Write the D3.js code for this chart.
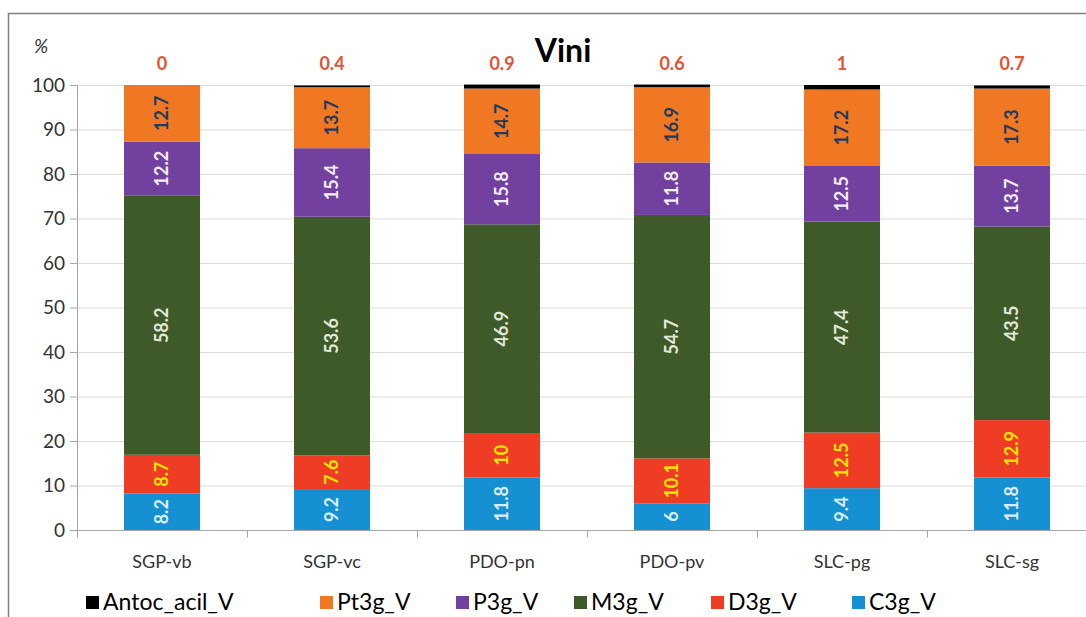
<!DOCTYPE html>
<html>
<head>
<meta charset="utf-8">
<script src="https://cdn.jsdelivr.net/npm/d3@7"></script>
<style>
  html, body { margin: 0; padding: 0; background: #fff; }
  svg { display: block; font-family: Lato, "Open Sans", sans-serif; }
</style>
</head>
<body>
<div id="chart"></div>
<script>
// Stacked composition of anthocyanins per wine (%)
const categories = ['SGP-vb', 'SGP-vc', 'PDO-pn', 'PDO-pv', 'SLC-pg', 'SLC-sg'];
const seriesKeys = ['C3g_V', 'D3g_V', 'M3g_V', 'P3g_V', 'Pt3g_V', 'Antoc_acil_V'];
const legendOrder = ['Antoc_acil_V', 'Pt3g_V', 'P3g_V', 'M3g_V', 'D3g_V', 'C3g_V'];

const c3g   = [8.2, 9.2, 11.8, 6, 9.4, 11.8];
const d3g   = [8.7, 7.6, 10, 10.1, 12.5, 12.9];
const m3g   = [58.2, 53.6, 46.9, 54.7, 47.4, 43.5];
const p3g   = [12.2, 15.4, 15.8, 11.8, 12.5, 13.7];
const pt3g  = [12.7, 13.7, 14.7, 16.9, 17.2, 17.3];
const acil  = [0, 0.4, 0.9, 0.6, 1, 0.7];
const yTicks = [0, 10, 20, 30, 40, 50, 60, 70, 80, 90, 100];

const colors = {
    'C3g_V': '#1590d2',
    'D3g_V': '#ee3d24',
    'M3g_V': '#3f5a29',
    'P3g_V': '#7241a0',
    'Pt3g_V': '#f07823',
    'Antoc_acil_V': '#000000'
};
const labelColors = {
    'C3g_V': '#dbeefa',
    'D3g_V': '#ffe600',
    'M3g_V': '#e2e9d8',
    'P3g_V': '#f2eef8',
    'Pt3g_V': '#1f3a5c'
};

const rows = categories.map((c, i) => ({
    cat: c,
    'C3g_V': c3g[i], 'D3g_V': d3g[i], 'M3g_V': m3g[i],
    'P3g_V': p3g[i], 'Pt3g_V': pt3g[i], 'Antoc_acil_V': acil[i]
}));

const width = 1086, height = 617;
const margin = { left: 77, top: 85, right: -11, bottom: 87 };

const svg = d3.select('#chart').append('svg')
    .attr('width', width).attr('height', height);

// chart frame
svg.append('rect')
    .attr('x', 8.5).attr('y', 13.5)
    .attr('width', 1100).attr('height', 700)
    .attr('fill', 'none').attr('stroke', '#7f7f7f').attr('stroke-width', 1.5);

const x = d3.scaleBand()
    .domain(categories)
    .range([margin.left, width - margin.right])
    .paddingInner(0.553).paddingOuter(0.2765);

const y = d3.scaleLinear()
    .domain([0, 100])
    .range([height - margin.bottom, margin.top]);

// gridlines
svg.append('g')
    .selectAll('line')
    .data(yTicks.filter(d => d > 0))
    .join('line')
    .attr('x1', margin.left).attr('x2', width)
    .attr('y1', d => y(d) + 0.5).attr('y2', d => y(d) + 0.5)
    .attr('stroke', '#dcdcdc');

// y axis
const yAxis = svg.append('g')
    .attr('transform', `translate(${margin.left},0)`)
    .call(d3.axisLeft(y).tickValues(yTicks).tickSize(7).tickPadding(5));
yAxis.select('.domain').attr('stroke', '#a6a6a6');
yAxis.selectAll('.tick line').attr('stroke', '#a6a6a6');
yAxis.selectAll('text')
    .attr('fill', '#333')
    .style('font-size', '19px')
    .style('font-family', 'Lato, "Open Sans", sans-serif');

// x axis baseline and category separators
const x0 = y(0) + 0.5;
svg.append('line')
    .attr('x1', margin.left - 7).attr('x2', width)
    .attr('y1', x0).attr('y2', x0)
    .attr('stroke', '#a6a6a6');
const step = x.step();
svg.append('g').selectAll('line')
    .data(d3.range(categories.length))
    .join('line')
    .attr('x1', i => margin.left + i * step + 0.5)
    .attr('x2', i => margin.left + i * step + 0.5)
    .attr('y1', x0).attr('y2', x0 + 7)
    .attr('stroke', '#a6a6a6');

svg.append('g').selectAll('text')
    .data(categories)
    .join('text')
    .attr('x', d => x(d) + x.bandwidth() / 2)
    .attr('y', 568)
    .attr('text-anchor', 'middle')
    .attr('fill', '#333')
    .style('font-size', '18px')
    .text(d => d);

// stacks
const stacked = d3.stack().keys(seriesKeys)(rows);

const layers = svg.append('g').selectAll('g')
    .data(stacked)
    .join('g')
    .attr('fill', d => colors[d.key]);

layers.selectAll('rect')
    .data(d => d)
    .join('rect')
    .attr('x', d => x(d.data.cat))
    .attr('width', x.bandwidth())
    .attr('y', d => y(d[1]))
    .attr('height', d => y(d[0]) - y(d[1]));

// rotated value labels inside segments
stacked.filter(s => s.key !== 'Antoc_acil_V').forEach(s => {
    svg.append('g').selectAll('text')
        .data(s)
        .join('text')
        .attr('transform', d => {
            const cx = x(d.data.cat) + x.bandwidth() / 2;
            const cy = (y(d[0]) + y(d[1])) / 2;
            return `translate(${cx},${cy}) rotate(-90)`;
        })
        .attr('text-anchor', 'middle')
        .attr('dy', '0.35em')
        .attr('fill', labelColors[s.key])
        .style('font-size', '18px')
        .style('font-weight', 'bold')
        .text(d => d.data[s.key]);
});

// acylated values above bars
svg.append('g').selectAll('text')
    .data(rows)
    .join('text')
    .attr('x', d => x(d.cat) + x.bandwidth() / 2)
    .attr('y', y(100) - 15)
    .attr('text-anchor', 'middle')
    .attr('fill', '#e8502f')
    .style('font-size', '18px')
    .style('font-weight', 'bold')
    .text(d => d['Antoc_acil_V']);

// title and unit
svg.append('text')
    .attr('x', 563).attr('y', 62)
    .attr('text-anchor', 'middle')
    .attr('fill', '#000')
    .style('font-size', '32px')
    .style('font-weight', 'bold')
    .text('Vini');

svg.append('text')
    .attr('x', 34).attr('y', 53)
    .attr('fill', '#333')
    .style('font-size', '19px')
    .style('font-style', 'italic')
    .text('%');

// legend
const legendX = [86, 320, 456, 574, 711, 852];
const lg = svg.append('g').selectAll('g')
    .data(legendOrder)
    .join('g')
    .attr('transform', (d, i) => `translate(${legendX[i]},602)`);
lg.append('rect')
    .attr('x', 0).attr('y', -6)
    .attr('width', 13).attr('height', 13)
    .attr('fill', d => colors[d]);
lg.append('text')
    .attr('x', 17).attr('dy', '0.35em')
    .attr('fill', '#000')
    .style('font-size', '23px')
    .text(d => d);
</script>
</body>
</html>
